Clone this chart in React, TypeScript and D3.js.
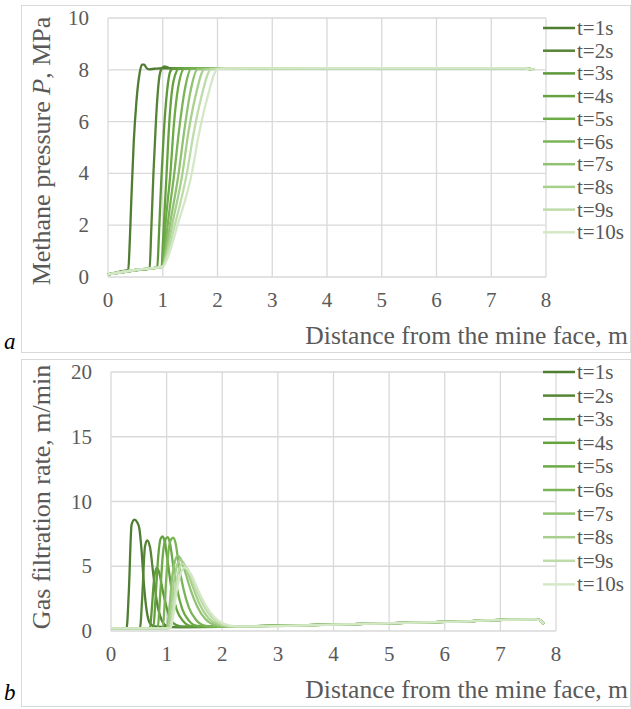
import React from "react";
import * as d3 from "d3";

// ---------- data ----------
const seriesLabels = ["t=1s", "t=2s", "t=3s", "t=4s", "t=5s", "t=6s", "t=7s", "t=8s", "t=9s", "t=10s"];
const seriesColors = ["#4f7d31", "#558436", "#5e983b", "#65a23f", "#6dab46", "#7bb457", "#91c272", "#a8d08d", "#bedca9", "#d4e8c7"];

const xTicks = [0, 1, 2, 3, 4, 5, 6, 7, 8];
const pressureTicks = [0, 2, 4, 6, 8, 10];
const rateTicks = [0, 5, 10, 15, 20];

// Methane pressure (x in m, P in MPa)
const pressurePlateau: [number, number][] = [[2.2, 8.05], [4, 8.06], [6, 8.06], [7.6, 8.06], [7.78, 8.0]];
const p1: [number, number][] = [[0, 0.1], [0.2, 0.2], [0.37, 0.28], [0.4, 1.5], [0.43, 3.2], [0.47, 5.2], [0.52, 6.8], [0.58, 7.9], [0.62, 8.2], [0.66, 8.2], [0.7, 8.08], [0.75, 8.02], [0.85, 8.04], [1.0, 8.06], [1.6, 8.06]];
const p2: [number, number][] = [[0, 0.1], [0.5, 0.26], [0.76, 0.33], [0.79, 1.8], [0.83, 4.0], [0.88, 6.2], [0.93, 7.6], [0.98, 8.05], [1.03, 8.13], [1.08, 8.1], [1.15, 8.05], [1.7, 8.06]];
const p3: [number, number][] = [[0, 0.1], [0.5, 0.26], [0.9, 0.37], [0.93, 1.6], [0.97, 3.6], [1.02, 5.6], [1.08, 7.2], [1.14, 7.95], [1.2, 8.06], [1.8, 8.06]];
const p4: [number, number][] = [[0, 0.1], [0.5, 0.27], [0.98, 0.38], [1.0, 1.2], [1.02, 2.0], [1.07, 4.0], [1.12, 6.0], [1.2, 7.6], [1.3, 8.05], [1.9, 8.05]];
const p5: [number, number][] = [[0, 0.1], [0.5, 0.27], [1.0, 0.4], [1.02, 1.0], [1.05, 2.0], [1.14, 4.0], [1.2, 5.8], [1.28, 7.3], [1.4, 8.05], [1.95, 8.05]];
const p6: [number, number][] = [[0, 0.1], [0.5, 0.27], [1.0, 0.4], [1.04, 1.0], [1.09, 2.0], [1.21, 4.0], [1.3, 5.7], [1.4, 7.2], [1.52, 8.04], [2.0, 8.05]];
const p7: [number, number][] = [[0, 0.1], [0.5, 0.27], [1.0, 0.4], [1.05, 0.9], [1.13, 2.0], [1.29, 4.0], [1.39, 5.6], [1.5, 7.1], [1.64, 8.03], [2.05, 8.05]];
const p8: [number, number][] = [[0, 0.1], [0.5, 0.27], [1.0, 0.4], [1.07, 0.9], [1.17, 2.0], [1.36, 4.0], [1.47, 5.6], [1.6, 7.0], [1.76, 8.02], [2.1, 8.05]];
const p9: [number, number][] = [[0, 0.1], [0.5, 0.27], [1.0, 0.4], [1.08, 0.85], [1.22, 2.0], [1.44, 4.0], [1.56, 5.5], [1.7, 6.9], [1.88, 8.02], [2.15, 8.05]];
const p10: [number, number][] = [[0, 0.1], [0.5, 0.27], [1.0, 0.4], [1.1, 0.8], [1.27, 2.0], [1.53, 4.0], [1.65, 5.4], [1.8, 6.8], [2.0, 8.02]];

// Gas filtration rate (x in m, v in m/min)
const rateTail: [number, number][] = [[2.35, 0.35], [4, 0.5], [6, 0.7], [7.6, 0.9], [7.7, 0.85], [7.78, 0.55]];
const q1: [number, number][] = [[0, 0.2], [0.28, 0.2], [0.32, 3.0], [0.37, 8.2], [0.42, 8.6], [0.47, 8.4], [0.51, 7.9], [0.55, 6.2], [0.59, 3.7], [0.64, 1.6], [0.7, 0.6], [0.79, 0.35], [1.0, 0.3], [2.0, 0.32]];
const q2: [number, number][] = [[0, 0.2], [0.52, 0.2], [0.56, 2.5], [0.61, 6.5], [0.65, 7.0], [0.7, 6.5], [0.76, 4.4], [0.83, 2.1], [0.91, 0.85], [1.0, 0.4], [1.2, 0.3], [2.0, 0.32]];
const q3: [number, number][] = [[0, 0.2], [0.7, 0.2], [0.73, 1.5], [0.77, 3.8], [0.82, 4.9], [0.86, 4.6], [0.94, 2.9], [1.03, 1.35], [1.12, 0.6], [1.25, 0.35], [2.0, 0.32]];
const q4: [number, number][] = [[0, 0.2], [0.76, 0.2], [0.8, 2.5], [0.85, 5.8], [0.89, 7.1], [0.93, 7.3], [0.97, 6.8], [1.03, 5.0], [1.09, 3.2], [1.18, 1.65], [1.3, 0.75], [1.42, 0.4], [2.0, 0.32]];
const q5: [number, number][] = [[0, 0.2], [0.84, 0.2], [0.88, 2.5], [0.93, 5.8], [0.98, 7.1], [1.02, 7.25], [1.06, 6.8], [1.12, 5.0], [1.19, 3.2], [1.28, 1.7], [1.4, 0.8], [1.55, 0.4], [2.0, 0.32]];
const q6: [number, number][] = [[0, 0.2], [0.93, 0.2], [0.97, 2.5], [1.02, 5.6], [1.07, 7.0], [1.12, 7.2], [1.16, 6.8], [1.22, 5.1], [1.3, 3.3], [1.4, 1.8], [1.53, 0.85], [1.7, 0.4], [2.0, 0.32]];
const q7: [number, number][] = [[0, 0.2], [1.0, 0.2], [1.05, 1.8], [1.1, 4.2], [1.15, 5.4], [1.2, 5.8], [1.25, 5.6], [1.33, 4.6], [1.43, 3.2], [1.55, 1.9], [1.7, 0.9], [1.88, 0.45], [2.1, 0.33]];
const q8: [number, number][] = [[0, 0.2], [1.02, 0.2], [1.07, 1.5], [1.13, 3.8], [1.19, 5.1], [1.24, 5.5], [1.3, 5.3], [1.38, 4.5], [1.48, 3.3], [1.6, 2.0], [1.75, 1.0], [1.93, 0.5], [2.15, 0.34]];
const q9: [number, number][] = [[0, 0.2], [1.05, 0.2], [1.1, 1.3], [1.16, 3.4], [1.22, 4.7], [1.28, 5.2], [1.34, 5.0], [1.43, 4.3], [1.53, 3.2], [1.66, 2.0], [1.8, 1.1], [1.98, 0.55], [2.2, 0.35]];
const q10: [number, number][] = [[0, 0.2], [1.07, 0.2], [1.12, 1.2], [1.18, 3.1], [1.25, 4.4], [1.31, 4.9], [1.37, 4.8], [1.46, 4.2], [1.57, 3.1], [1.7, 2.0], [1.85, 1.1], [2.03, 0.55], [2.25, 0.36]];

const pressureSeries = [p1, p2, p3, p4, p5, p6, p7, p8, p9, p10].map((s) => s.concat(pressurePlateau));
const rateSeries = [q1, q2, q3, q4, q5, q6, q7, q8, q9, q10].map((s) => s.concat(rateTail));

const FONT = '"Liberation Serif", "DejaVu Serif", "Times New Roman", Times, serif';
const GREY = "#595959";
const GRID = "#d9d9d9";

type PanelProps = {
  frame: { x: number; y: number; w: number; h: number };
  plot: { x0: number; x1: number; y0: number; y1: number };
  yMax: number;
  yTicks: number[];
  series: [number, number][][];
  yTitle: React.ReactNode;
  yTitleCenter: number;
  xTickBaseline: number;
  xTitleBaseline: number;
  legendY0: number;
  legendStep: number;
  letter: string;
  letterY: number;
};

const txt = (size: number, extra: React.CSSProperties = {}): React.CSSProperties => ({
  fontFamily: FONT,
  fontSize: size,
  ...extra,
});

function Panel(props: PanelProps) {
  const { frame, plot, yMax, yTicks, series } = props;
  const x = d3.scaleLinear().domain([0, 8]).range([plot.x0, plot.x1]);
  const y = d3.scaleLinear().domain([0, yMax]).range([plot.y0, plot.y1]);
  const line = d3
    .line<[number, number]>()
    .x((d) => x(d[0]))
    .y((d) => y(d[1]))
    .curve(d3.curveMonotoneX);
  return (
    <g>
      <rect x={frame.x + 0.5} y={frame.y + 0.5} width={frame.w} height={frame.h} fill="#fff" stroke={GRID} strokeWidth={1} />
      {xTicks.map((t) => (
        <line key={"vx" + t} x1={x(t)} x2={x(t)} y1={plot.y1} y2={plot.y0} stroke={GRID} strokeWidth={1.3} />
      ))}
      {yTicks.map((t) => (
        <line key={"hy" + t} x1={plot.x0} x2={plot.x1} y1={y(t)} y2={y(t)} stroke={GRID} strokeWidth={1.3} />
      ))}
      {yTicks.map((t) => (
        <text key={"ly" + t} x={plot.x0 - 19} y={y(t) + 7} textAnchor="end" fill={GREY} style={txt(21)}>
          {t}
        </text>
      ))}
      {xTicks.map((t) => (
        <text key={"lx" + t} x={x(t)} y={props.xTickBaseline} textAnchor="middle" fill={GREY} style={txt(21)}>
          {t}
        </text>
      ))}
      <text x={628} y={props.xTitleBaseline} textAnchor="end" fill={GREY} style={txt(25.6)}>
        Distance from the mine face, m
      </text>
      <text
        transform={`translate(50,${props.yTitleCenter}) rotate(-90)`}
        textAnchor="middle"
        fill={GREY}
        style={txt(26)}
      >
        {props.yTitle}
      </text>
      {series.map((s, i) => (
        <path key={"s" + i} d={line(s) || ""} fill="none" stroke={seriesColors[i]} strokeWidth={2.3} strokeLinejoin="round" />
      ))}
      {seriesLabels.map((lab, i) => {
        const ly = props.legendY0 + i * props.legendStep;
        return (
          <g key={"lg" + i}>
            <line x1={543} x2={575} y1={ly} y2={ly} stroke={seriesColors[i]} strokeWidth={2.5} />
            <text x={577} y={ly + 7} fill={GREY} style={txt(21)}>
              {lab}
            </text>
          </g>
        );
      })}
      <text x={4} y={props.letterY} fill="#000" style={txt(23, { fontStyle: "italic" })}>
        {props.letter}
      </text>
    </g>
  );
}

export default function App() {
  return (
    <svg width={631} height={709} style={{ position: "absolute", left: 0, top: 0, background: "#fff" }}>
      <Panel
        frame={{ x: 21, y: 5, w: 609, h: 347 }}
        plot={{ x0: 108, x1: 546, y0: 277, y1: 18 }}
        yMax={10}
        yTicks={pressureTicks}
        series={pressureSeries}
        yTitle={
          <>
            Methane pressure <tspan style={{ fontStyle: "italic" }}>P</tspan>, MPa
          </>
        }
        yTitleCenter={151}
        xTickBaseline={307}
        xTitleBaseline={344}
        legendY0={28}
        legendStep={22.7}
        letter="a"
        letterY={349}
      />
      <Panel
        frame={{ x: 21, y: 359, w: 609, h: 347 }}
        plot={{ x0: 111, x1: 556, y0: 631, y1: 372 }}
        yMax={20}
        yTicks={rateTicks}
        series={rateSeries}
        yTitle={<>Gas filtration rate, m/min</>}
        yTitleCenter={497}
        xTickBaseline={661}
        xTitleBaseline={698}
        legendY0={372}
        legendStep={23.6}
        letter="b"
        letterY={700}
      />
    </svg>
  );
}
